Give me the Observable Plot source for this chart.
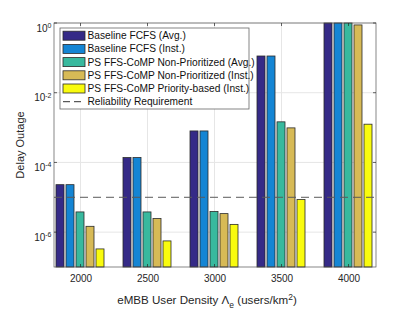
<!DOCTYPE html>
<html><head><meta charset="utf-8">
<script src="https://cdn.jsdelivr.net/npm/d3@7"></script>
<script src="https://cdn.jsdelivr.net/npm/@observablehq/plot@0.6"></script>
<style>body{margin:0;background:#fff;} svg{display:block}</style>
</head><body><div id="chart"></div>
<script>
const densities = [2000, 2500, 3000, 3500, 4000];
const seriesNames = [
  "Baseline FCFS (Avg.)",
  "Baseline FCFS (Inst.)",
  "PS FFS-CoMP Non-Prioritized (Avg.)",
  "PS FFS-CoMP Non-Prioritized (Inst.)",
  "PS FFS-CoMP Priority-based (Inst.)"
];
const seriesColors = ["#352a87", "#1485d4", "#38b99e", "#d7ba56", "#f9fb0e"];
const baselineAvg   = [2.3e-5, 1.38e-4, 8.0e-4, 0.113, 1];
const baselineInst  = [2.3e-5, 1.38e-4, 8.0e-4, 0.113, 1];
const psNonPrioAvg  = [3.8e-6, 3.8e-6, 3.9e-6, 1.46e-3, 1];
const psNonPrioInst = [1.47e-6, 2.45e-6, 3.4e-6, 9.8e-4, 0.88];
const psPriority    = [3.3e-7, 5.6e-7, 1.67e-6, 8.6e-6, 1.25e-3];
const reliabilityRequirement = 1e-5;
const reliabilityLabel = "Reliability Requirement";
const yDomain = [1e-7, 1];
const yTicks = [1e0, 1e-2, 1e-4, 1e-6];
const yLabel = "Delay Outage";

const allSeries = [baselineAvg, baselineInst, psNonPrioAvg, psNonPrioInst, psPriority];
const data = [];
densities.forEach((d, i) => allSeries.forEach((s, j) => data.push({density: d, series: seriesNames[j], value: s[i]})));

const W = 415, H = 312, mL = 54, mR = 39, mT = 23, mB = 45;
const font = "'Liberation Sans', Arial, Helvetica, sans-serif";
const ink = "#262626";

const plot = Plot.plot({
  width: W, height: H,
  marginLeft: mL, marginRight: mR, marginTop: mT, marginBottom: mB,
  style: {fontFamily: font, fontSize: "10px", color: ink, background: "#fff", overflow: "visible"},
  fx: {domain: densities, padding: 0.236, axis: "bottom", label: null, tickSize: 0, tickPadding: 7,
       tickFormat: d => String(d)},
  x: {domain: seriesNames, padding: 0.16, paddingOuter: 0, axis: null},
  y: {type: "log", domain: yDomain, ticks: yTicks, tickSize: 0, tickPadding: 4, label: null,
      tickFormat: d => String(Math.round(Math.log10(d)))},
  color: {domain: seriesNames, range: seriesColors},
  marks: [
    Plot.barY(data, {fx: "density", x: "series", y1: () => yDomain[0], y2: "value",
      fill: "series", stroke: "#2a2a2a", strokeWidth: 0.8})
  ]
});

document.getElementById("chart").appendChild(plot);
const svg = d3.select(plot);
const ys = plot.scale("y"), fxs = plot.scale("fx");
const x0 = mL, x1 = W - mR, y0 = mT, y1 = H - mB;

// y tick labels with superscripts
svg.selectAll('g[aria-label="y-axis tick label"] text').each(function() {
  const e = this.textContent;
  const t = d3.select(this);
  t.text("10").attr("dy", "0.5em");
  t.append("tspan").attr("dy", "-0.55em").attr("font-size", "7px").text(e);
});

// grid behind bars
const grid = svg.insert("g", "g").attr("stroke", "#e6e6e6").attr("stroke-width", 1);
yTicks.forEach(v => grid.append("line").attr("x1", x0).attr("x2", x1)
  .attr("y1", ys.apply(v)).attr("y2", ys.apply(v)));
densities.forEach(d => {
  const cx = fxs.apply(d) + fxs.bandwidth / 2;
  grid.append("line").attr("x1", cx).attr("x2", cx).attr("y1", y0).attr("y2", y1);
});

// reliability requirement
const ry = ys.apply(reliabilityRequirement);
svg.append("line").attr("x1", x0).attr("x2", x1).attr("y1", ry).attr("y2", ry)
  .attr("stroke", "#5a5a5a").attr("stroke-width", 1).attr("stroke-dasharray", "8,5");

// frame and inward ticks
const fr = svg.append("g").attr("stroke", ink).attr("stroke-width", 0.7).attr("fill", "none");
fr.append("rect").attr("x", x0).attr("y", y0).attr("width", x1 - x0).attr("height", y1 - y0).attr("stroke", "#555");
yTicks.forEach(v => {
  const yy = ys.apply(v);
  fr.append("line").attr("x1", x0).attr("x2", x0 + 3).attr("y1", yy).attr("y2", yy);
  fr.append("line").attr("x1", x1).attr("x2", x1 - 3).attr("y1", yy).attr("y2", yy);
});
densities.forEach(d => {
  const cx = fxs.apply(d) + fxs.bandwidth / 2;
  fr.append("line").attr("x1", cx).attr("x2", cx).attr("y1", y0).attr("y2", y0 + 3);
  fr.append("line").attr("x1", cx).attr("x2", cx).attr("y1", y1).attr("y2", y1 - 3);
});

// axis labels
svg.append("text").attr("transform", `translate(23.5,${(y0 + y1) / 2}) rotate(-90)`)
  .attr("text-anchor", "middle").attr("fill", ink).attr("font-size", "11px").attr("font-family", font)
  .text(yLabel);
const xl = svg.append("text").attr("x", 207).attr("y", 304).attr("text-anchor", "middle")
  .attr("fill", ink).attr("font-size", "11.6px").attr("font-family", font);
xl.append("tspan").text("eMBB User Density Λ");
xl.append("tspan").attr("dy", "3.5").attr("font-size", "8.5px").text("e");
xl.append("tspan").attr("dy", "-3.5").text(" (users/km");
xl.append("tspan").attr("dy", "-4.5").attr("font-size", "8.5px").text("2");
xl.append("tspan").attr("dy", "4.5").text(")");

// legend
const lg = svg.append("g").attr("font-family", font).attr("font-size", "10.2px").attr("text-anchor", "start");
const lx = 60, ly = 28, rowH = 13.2;
lg.append("rect").attr("x", lx).attr("y", ly).attr("width", 189).attr("height", 81)
  .attr("fill", "#fff").attr("stroke", "#666").attr("stroke-width", 0.8);
seriesNames.forEach((s, i) => {
  const cy = ly + 7.7 + i * rowH;
  lg.append("rect").attr("x", lx + 3).attr("y", cy - 4.5).attr("width", 22).attr("height", 9)
    .attr("fill", seriesColors[i]).attr("stroke", "#2a2a2a").attr("stroke-width", 0.8);
  lg.append("text").attr("x", lx + 27.5).attr("y", cy).attr("dy", "0.35em").attr("fill", "#111").text(s);
});
{
  const cy = ly + 7.7 + 5 * rowH;
  lg.append("line").attr("x1", lx + 3).attr("x2", lx + 25).attr("y1", cy).attr("y2", cy)
    .attr("stroke", "#333").attr("stroke-width", 1).attr("stroke-dasharray", "7,4");
  lg.append("text").attr("x", lx + 27.5).attr("y", cy).attr("dy", "0.35em").attr("fill", "#111").text(reliabilityLabel);
}
</script>
</body></html>
